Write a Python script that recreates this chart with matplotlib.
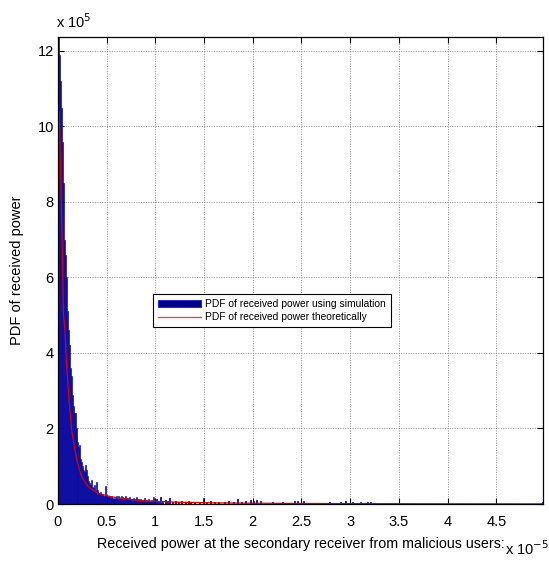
import numpy as np
import matplotlib
matplotlib.use("Agg")
import matplotlib.pyplot as plt
from matplotlib.patches import Patch
from matplotlib.lines import Line2D

plt.rcParams['font.family'] = ['Liberation Sans', 'DejaVu Sans']

# ---- data (x in units of 1e-5, y in units of 1e5) ----
bin_width = 0.01
# simulated histogram heights, bins starting at 0 with width 0.01
dense_heights = [
    12.37, 11.9, 11.2, 10.5, 9.6, 8.5, 7.0, 6.6, 6.0, 5.1,
    4.6, 4.2, 3.6, 3.4, 2.9, 2.6, 2.41, 2.41, 2.0, 1.8,
    1.64, 1.5, 1.55, 1.2, 1.1, 1.0, 0.9, 0.85, 1.03, 0.9,
    0.75, 0.6, 0.55, 0.5, 0.64, 0.45, 0.42, 0.5, 0.35, 0.59,
    0.36, 0.3, 0.28, 0.32, 0.25, 0.27, 0.22, 0.2, 0.48, 0.25,
    0.2, 0.18, 0.22, 0.15, 0.2, 0.17, 0.14, 0.19, 0.12, 0.16,
    0.2, 0.14, 0.22, 0.16, 0.12, 0.2, 0.18, 0.1, 0.15, 0.2,
    0.13, 0.17, 0.1, 0.19, 0.12, 0.14, 0.09, 0.16, 0.11, 0.13,
    0.18, 0.08, 0.12, 0.1, 0.14, 0.07, 0.11, 0.09, 0.15, 0.06,
    0.1, 0.08, 0.12, 0.05, 0.09, 0.07, 0.1, 0.06, 0.18, 0.08,
]
# sparse tail bins (left edge, height)
tail_x = [1.01, 1.03, 1.05, 1.07, 1.10, 1.12, 1.14, 1.17, 1.20, 1.23,
          1.26, 1.30, 1.33, 1.36, 1.40, 1.45, 1.49, 1.52, 1.56, 1.60,
          1.64, 1.70, 1.75, 1.80, 1.84, 1.88, 1.92, 1.97, 2.00, 2.03,
          2.07, 2.20, 2.30, 2.42, 2.45, 2.52, 2.78, 2.90, 2.95, 3.02,
          3.10, 3.17, 3.20, 4.97]
tail_h = [0.12, 0.08, 0.19, 0.06, 0.10, 0.07, 0.17, 0.05, 0.09, 0.06,
          0.08, 0.05, 0.07, 0.04, 0.06, 0.05, 0.15, 0.05, 0.07, 0.04,
          0.06, 0.05, 0.08, 0.04, 0.14, 0.06, 0.09, 0.10, 0.08, 0.10,
          0.07, 0.06, 0.06, 0.08, 0.09, 0.08, 0.05, 0.06, 0.07, 0.06,
          0.04, 0.06, 0.06, 0.06]

# theoretical PDF curve
theory_x = [0.013, 0.025, 0.045, 0.055, 0.072, 0.085, 0.10, 0.113, 0.125, 0.14,
            0.168, 0.20, 0.243, 0.31, 0.41, 0.55, 0.72, 0.90, 1.2, 1.6,
            2.0, 3.0, 4.0, 4.98]
theory_y = [10.4, 8.95, 6.7, 5.06, 4.6, 3.8, 3.25, 2.75, 2.4, 1.96,
            1.52, 1.09, 0.72, 0.46, 0.28, 0.19, 0.13, 0.08, 0.05, 0.03,
            0.02, 0.01, 0.005, 0.003]

x_ticks = [0, 0.5, 1, 1.5, 2, 2.5, 3, 3.5, 4, 4.5]
x_ticklabels = ['0', '0.5', '1', '1.5', '2', '2.5', '3', '3.5', '4', '4.5']
y_ticks = [0, 2, 4, 6, 8, 10, 12]
y_ticklabels = ['0', '2', '4', '6', '8', '10', '12']

# ---- figure ----
fig = plt.figure(figsize=(5.49, 5.61), dpi=100)
ax = fig.add_axes([58/549, 57/561, 485/549, 467/561])

face = '#000088'
edge = '#0a0aa8'
dense_x = [i * bin_width for i in range(len(dense_heights))]
ax.bar(dense_x, dense_heights, width=bin_width, align='edge',
       facecolor=face, edgecolor=edge, linewidth=0.45, zorder=2)
ax.bar(tail_x, tail_h, width=bin_width, align='edge',
       facecolor=face, edgecolor=edge, linewidth=0.6, zorder=2)
ax.plot(theory_x, theory_y, color='#e00000', linewidth=0.9, zorder=3)

ax.set_xlim(0, 4.98)
ax.set_ylim(0, 12.37)
ax.set_xticks(x_ticks)
ax.set_xticklabels(x_ticklabels)
ax.set_yticks(y_ticks)
ax.set_yticklabels(y_ticklabels)
ax.tick_params(direction='in', length=4, width=0.8, labelsize=10.5,
               top=True, right=True)
ax.tick_params(axis='x', pad=8)
ax.tick_params(axis='y', pad=3)
ax.grid(True, color='#8a8a8a', linestyle=(0, (1, 1.5)), linewidth=0.7, zorder=0)
ax.set_axisbelow(True)
for s in ax.spines.values():
    s.set_linewidth(0.9)
    s.set_zorder(5)

ax.set_xlabel('Received power at the secondary receiver from malicious users:',
              fontsize=10.3, labelpad=6)
ax.set_ylabel('PDF of received power', fontsize=10.5, labelpad=10)

fig.text(56/549, 1 - 22/561, r'x 10$^{5}$', fontsize=10.5, ha='left', va='center')
fig.text(505/549, 1 - 549/561, r'x 10$^{-5}$', fontsize=10.5, ha='left', va='center')

handles = [Patch(facecolor=face, edgecolor='#2a2ad0', linewidth=0.8),
           Line2D([0], [0], color='#ff3030', linewidth=0.9)]
labels = ['PDF of received power using simulation',
          'PDF of received power theoretically']
leg = ax.legend(handles, labels, loc='upper left',
                bbox_to_anchor=((153-58)/485, (504-294)/467),
                prop={'family': ['Liberation Sans'], 'size': 7.4},
                frameon=True, fancybox=False, framealpha=1,
                edgecolor='black', borderpad=0.5, labelspacing=0.3,
                handlelength=4.2, handletextpad=0.4, borderaxespad=0)
leg.get_frame().set_linewidth(0.8)

fig.savefig('out.png', dpi=100)
